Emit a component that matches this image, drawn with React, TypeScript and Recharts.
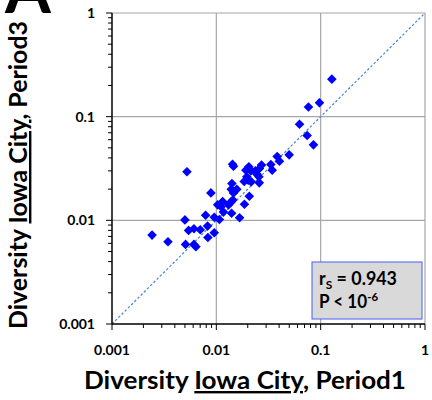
import { ScatterChart, Scatter, XAxis, YAxis, ReferenceLine } from 'recharts'

// Diversity values
const period1 = [
  0.128, 0.0974, 0.0764, 0.0627, 0.0742, 0.0853, 0.0499, 0.0383, 0.0403, 0.0333,
  0.0343, 0.0271, 0.0259, 0.0237, 0.0245, 0.0256, 0.0214, 0.0205, 0.0192, 0.0196,
  0.0202, 0.0185, 0.0216, 0.0258, 0.0143, 0.0146, 0.00523, 0.0141, 0.0139, 0.0157,
  0.0146, 0.00887, 0.0207, 0.0186, 0.0144, 0.0138, 0.0115, 0.0103, 0.0111, 0.0131,
  0.0117, 0.014, 0.0167, 0.00789, 0.00955, 0.0107, 0.005, 0.00542, 0.0061, 0.00701,
  0.00824, 0.00955, 0.0083, 0.00242, 0.00344, 0.00507, 0.0061, 0.00637,
]
const period3 = [
  0.23, 0.136, 0.124, 0.0846, 0.0658, 0.0535, 0.0428, 0.0413, 0.0372, 0.0346,
  0.0305, 0.0341, 0.0316, 0.03, 0.0279, 0.0263, 0.03, 0.0328, 0.0305, 0.0263,
  0.0244, 0.0237, 0.0235, 0.023, 0.0348, 0.0333, 0.0294, 0.0227, 0.0199, 0.0199,
  0.0184, 0.0184, 0.0171, 0.0143, 0.0157, 0.015, 0.0152, 0.0141, 0.0135, 0.0141,
  0.012, 0.0117, 0.0106, 0.0112, 0.0107, 0.0102, 0.0101, 0.008, 0.0083, 0.0081,
  0.0088, 0.0076, 0.00684, 0.0072, 0.00622, 0.00586, 0.00586, 0.00556,
]

const decades = [0.001, 0.01, 0.1, 1]
const decadeLabels = ['0.001', '0.01', '0.1', '1']

const allTicks: number[] = []
decades.forEach((d, i) => {
  if (i === decades.length - 1) {
    allTicks.push(d)
    return
  }
  for (let m = 1; m <= 9; m++) allTicks.push(+(d * m).toPrecision(3))
})

const data = period1.map((x, i) => ({ x, y: period3[i] }))

const FONT = 'Lato, "Open Sans", sans-serif'

function XTick(props: any) {
  const { x, y, payload } = props
  const i = decades.indexOf(payload.value)
  const major = i >= 0
  return (
    <g>
      <line x1={x} x2={x} y1={y} y2={y + (major ? 6 : 4)} stroke="#000" />
      {major && (
        <text x={x} y={y + 31} textAnchor="middle" fontSize={14} fontWeight="bold" fontFamily={FONT} fill="#000">
          {decadeLabels[i]}
        </text>
      )}
    </g>
  )
}

function YTick(props: any) {
  const { x, y, payload } = props
  const i = decades.indexOf(payload.value)
  const major = i >= 0
  return (
    <g>
      <line x1={x - (major ? 6 : 4)} x2={x} y1={y} y2={y} stroke="#000" />
      {major && (
        <text x={x - 17} y={y + 5} textAnchor="end" fontSize={14} fontWeight="bold" fontFamily={FONT} fill="#000">
          {decadeLabels[i]}
        </text>
      )}
    </g>
  )
}

const Diamond = (p: any) => {
  const { cx, cy } = p
  const r = 4.8
  return (
    <polygon
      points={`${cx},${cy - r} ${cx + r},${cy} ${cx},${cy + r} ${cx - r},${cy}`}
      fill="#0000FF"
    />
  )
}

export default function App() {
  return (
    <div style={{ position: 'absolute', left: 0, top: 0, width: 432, height: 400, background: '#fff' }}>
      <ScatterChart width={432} height={400} margin={{ top: 13, right: 7, bottom: 0, left: 0 }}>
        <XAxis
          type="number"
          dataKey="x"
          scale="log"
          domain={[0.001, 1]}
          ticks={allTicks}
          interval={0}
          tickSize={0}
          tickMargin={0}
          tick={<XTick />}
          height={76}
          allowDataOverflow
          axisLine={{ stroke: '#000', strokeWidth: 1.5 }}
        />
        <YAxis
          type="number"
          dataKey="y"
          scale="log"
          domain={[0.001, 1]}
          ticks={allTicks}
          interval={0}
          tickSize={0}
          tickMargin={0}
          tick={<YTick />}
          width={112}
          allowDataOverflow
          axisLine={{ stroke: '#000', strokeWidth: 1.5 }}
        />
        <ReferenceLine x={0.01} stroke="#a6a6a6" strokeWidth={1.2} />
        <ReferenceLine x={0.1} stroke="#a6a6a6" strokeWidth={1.2} />
        <ReferenceLine x={1} stroke="#a6a6a6" strokeWidth={1.2} />
        <ReferenceLine y={0.01} stroke="#a6a6a6" strokeWidth={1.2} />
        <ReferenceLine y={0.1} stroke="#a6a6a6" strokeWidth={1.2} />
        <ReferenceLine y={1} stroke="#a6a6a6" strokeWidth={1.2} />
        <ReferenceLine
          segment={[{ x: 0.001, y: 0.001 }, { x: 1, y: 1 }]}
          stroke="#4a86d0"
          strokeWidth={1.2}
          strokeDasharray="2.5 2"
        />
        <Scatter data={data} shape={Diamond} isAnimationActive={false} />
      </ScatterChart>
      <svg
        width={432}
        height={400}
        style={{ position: 'absolute', left: 0, top: 0, pointerEvents: 'none' }}
        fontFamily={FONT}
      >
        <text x={5} y={13} fontSize={66} fontWeight="bold" fill="#000">A</text>
        <text
          x={27}
          y={175}
          transform="rotate(-90, 27, 175)"
          textAnchor="middle"
          fontSize={24}
          fontWeight="bold"
          fill="#000"
          textLength={308}
          lengthAdjust="spacingAndGlyphs"
        >
          Diversity <tspan style={{ textDecoration: 'underline' }}>Iowa City</tspan>, Period3
        </text>
        <text
          x={245}
          y={389}
          textAnchor="middle"
          fontSize={24}
          fontWeight="bold"
          fill="#000"
          textLength={322}
          lengthAdjust="spacingAndGlyphs"
        >
          Diversity <tspan style={{ textDecoration: 'underline' }}>Iowa City</tspan>, Period1
        </text>
        <rect x={312} y={262} width={110} height={57} fill="#d9d9d9" stroke="#4a5cf0" strokeWidth={1} />
        <text x={319} y={285} fontSize={18} fontWeight="bold" fill="#000" textLength={78} lengthAdjust="spacingAndGlyphs">
          r<tspan dy={4} fontSize={12}>S</tspan>
          <tspan dy={-4}> = 0.943</tspan>
        </text>
        <text x={319} y={308} fontSize={18} fontWeight="bold" fill="#000" textLength={59} lengthAdjust="spacingAndGlyphs">
          P &lt; 10<tspan dy={-7} fontSize={12}>-6</tspan>
        </text>
      </svg>
    </div>
  )
}
